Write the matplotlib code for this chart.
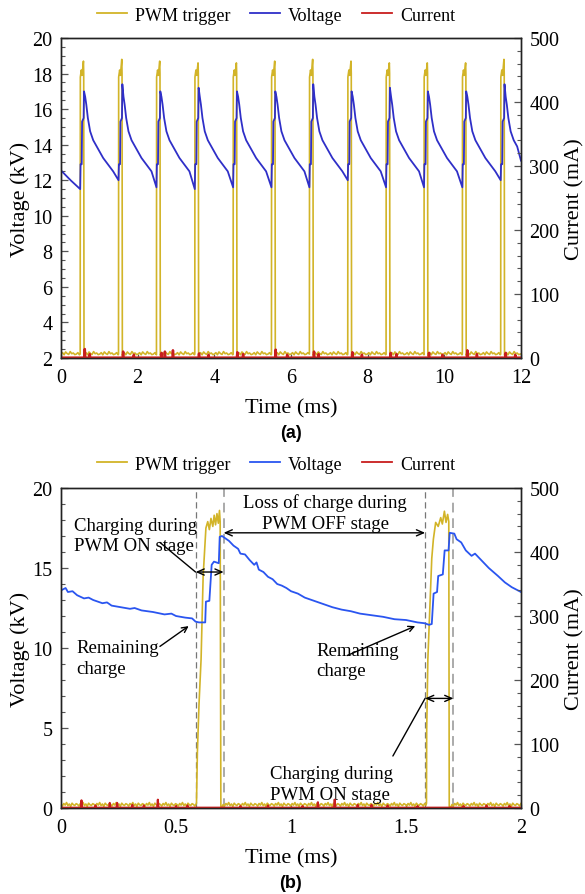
import matplotlib
matplotlib.use('Agg')
import matplotlib.pyplot as plt
from matplotlib.ticker import MultipleLocator, FuncFormatter
from matplotlib.lines import Line2D
import numpy as np

plt.rcParams['font.family'] = ['Liberation Serif', 'DejaVu Serif']

YELLOW = '#d2b428'
BLUE_A = '#2f2fc8'
BLUE_B = '#2a55f0'
RED = '#c81e1e'

# ------ (a) 12 ms record ------
pulse_on_a = [0.50, 1.50, 2.49, 3.49, 4.49, 5.49, 6.48, 7.48, 8.48, 9.47, 10.47, 11.47]
pwm_peak_a = [18.7, 18.8, 18.7, 18.6, 18.6, 18.7, 18.8, 18.7, 18.6, 18.6, 18.6, 18.8]
pwm_top_dt_a = [0.004, 0.03, 0.05, 0.085, 0.092]
pwm_top_v_a = [17.8, 18.2, 17.9, None, 18.0]      # None -> pulse peak
pwm_noise_a = [2.22, 2.30, 2.18, 2.34, 2.25, 2.20, 2.36, 2.24, 2.28, 2.19]

volt_pre_t_a = [0.0, 0.25]
volt_pre_v_a = [12.55, 12.0]
volt_min_a = [11.5, 12.0, 11.6, 11.5, 11.6, 11.6, 11.6, 12.0, 11.6, 11.6, 11.6, 12.0]
volt_peak_a = [17.0, 17.4, 17.0, 17.2, 17.0, 17.0, 17.4, 17.0, 17.2, 17.0, 17.0, 17.4]
volt_step_dt_a = [0.01, 0.04, 0.05, 0.09]
volt_step_v_a = [12.9, 12.9, 15.3, 15.5]
volt_decay_dt_a = [0.03, 0.06, 0.1, 0.16, 0.24, 0.33, 0.5, 0.76]     # after the peak
volt_decay_v_a = [16.7, 16.25, 15.5, 14.75, 14.25, 13.9, 13.25, 12.5]
volt_end_a = 13.1

cur_t_a = [0.62, 0.75, 1.62, 1.9, 2.62, 2.71, 2.92, 3.6, 3.85, 4.6, 4.75, 5.6, 5.9,
           6.6, 6.72, 7.6, 7.85, 8.6, 8.75, 9.6, 9.95, 10.6, 10.85, 11.6, 11.85]
cur_h_a = [14, 6, 10, 5, 8, 10, 12, 7, 5, 9, 6, 13, 5, 10, 6, 9, 5, 8, 6, 8, 5, 12, 6, 8, 5]

# ------ (b) 2 ms record ------
pwm_p1_t_b = [0.589, 0.593, 0.600, 0.609, 0.618, 0.630, 0.638, 0.645, 0.652, 0.660,
              0.666, 0.672, 0.678, 0.684, 0.689, 0.692, 0.695]
pwm_p1_v_b = [0.3, 3.5, 6.5, 9.3, 14.5, 17.5, 17.9, 17.4, 18.1, 17.6,
              18.3, 17.7, 18.4, 17.8, 18.6, 17.9, 0.1]
pwm_p2_t_b = [1.589, 1.590, 1.595, 1.605, 1.612, 1.619, 1.629, 1.640, 1.651, 1.658,
              1.667, 1.674, 1.681, 1.686, 1.688]
pwm_p2_v_b = [0.3, 4.9, 9.3, 13.0, 15.6, 16.8, 17.85, 17.6, 18.15, 17.75,
              18.55, 17.85, 18.35, 17.9, 0.1]
pwm_noise_b = [0.22, 0.12, 0.28, 0.18, 0.34, 0.15, 0.25, 0.10, 0.30, 0.20, 0.16, 0.27]

volt_t_b = [0.00, 0.02, 0.03, 0.05, 0.07, 0.10, 0.12, 0.14, 0.18, 0.20, 0.22, 0.26,
            0.30, 0.32, 0.35, 0.40, 0.45, 0.48, 0.50, 0.54, 0.57, 0.585, 0.60, 0.627,
            0.630, 0.645, 0.655, 0.665, 0.686, 0.690, 0.700, 0.710, 0.730, 0.750, 0.770,
            0.780, 0.800, 0.820, 0.840, 0.850, 0.860, 0.880, 0.900, 0.920, 0.940, 0.960,
            0.980, 1.00, 1.03, 1.06, 1.10, 1.14, 1.18, 1.22, 1.26, 1.30, 1.35, 1.40,
            1.45, 1.50, 1.55, 1.58, 1.60, 1.612, 1.620, 1.635, 1.640, 1.660, 1.668,
            1.685, 1.690, 1.710, 1.720, 1.740, 1.760, 1.785, 1.800, 1.830, 1.860,
            1.900, 1.930, 1.960, 2.00]
volt_v_b = [13.6, 13.75, 13.5, 13.55, 13.3, 13.1, 13.15, 13.0, 12.8, 12.85, 12.65, 12.55,
            12.45, 12.5, 12.35, 12.25, 12.1, 12.15, 12.0, 11.9, 11.85, 11.65, 11.6, 11.6,
            12.9, 12.95, 15.2, 15.4, 15.3, 16.95, 17.0, 16.9, 16.7, 16.4, 16.2,
            15.9, 15.85, 15.5, 15.2, 15.35, 14.9, 14.75, 14.45, 14.3, 14.0, 13.9,
            13.75, 13.55, 13.4, 13.15, 12.95, 12.75, 12.55, 12.4, 12.3, 12.15, 12.05, 11.95,
            11.8, 11.75, 11.6, 11.55, 11.45, 11.5, 13.4, 13.5, 14.5, 14.6, 16.1,
            16.1, 17.2, 17.15, 16.8, 16.6, 16.1, 15.76, 15.9, 15.45, 15.0,
            14.5, 14.1, 13.8, 13.5]

cur_t_b = [0.089, 0.15, 0.212, 0.244, 0.31, 0.36, 0.421, 0.50, 0.55, 0.78, 0.90, 1.05,
           1.117, 1.19, 1.29, 1.35, 1.42, 1.55, 1.75, 1.85, 1.95]
cur_h_b = [12, 4, 8, 8, 5, 4, 13, 3, 4, 3, 4, 3, 9, 13, 5, 5, 4, 3, 3, 4, 3]

dash_t_b = [0.585, 0.707, 1.583, 1.706]


def noisy_base(t0, t1, step, levels):
    t = list(np.arange(t0, t1, step))
    return t, [levels[i % len(levels)] for i in range(len(t))]


def spikes(t_end, times, heights, width):
    t, v = [0.0], [0.5]
    for s, h in zip(times, heights):
        t += [s - width, s, s + width]
        v += [0.5, h, 0.5]
    return t + [t_end], v + [0.5]


def style_axes(ax, ax2, xmax, xmaj, ylo, ymaj, ymin):
    ax.set_xlim(0, xmax)
    ax.set_ylim(ylo, 20)
    ax2.set_ylim(0, 500)
    ax.xaxis.set_major_locator(MultipleLocator(xmaj))
    ax.xaxis.set_major_formatter(FuncFormatter(lambda v, p: '%g' % v))
    ax.yaxis.set_major_locator(MultipleLocator(ymaj))
    ax.yaxis.set_minor_locator(MultipleLocator(ymin))
    ax2.yaxis.set_major_locator(MultipleLocator(100))
    ax2.yaxis.set_minor_locator(MultipleLocator(20))
    for a in (ax, ax2):
        a.tick_params(which='both', direction='in', color='#555555', labelsize=14.5)
        a.tick_params(which='major', length=5, width=0.9)
        a.tick_params(which='minor', length=3, width=0.8)
        for s in a.spines.values():
            s.set_color('#222222')
            s.set_linewidth(1.0)
    ax.tick_params(axis='x', length=3, pad=7)
    ax.tick_params(axis='y', pad=6)
    ax2.tick_params(axis='y', pad=6)
    ax.set_xlabel('Time (ms)', fontsize=16, labelpad=8)
    ax.set_ylabel('Voltage (kV)', fontsize=16, labelpad=2)
    ax2.set_ylabel('Current (mA)', fontsize=16, labelpad=4)


fig = plt.figure(figsize=(5.85, 8.95), dpi=100)
ax_a = fig.add_axes([0.1043, 0.5989, 0.7863, 0.3575])
ax_a2 = ax_a.twinx()
ax_b = fig.add_axes([0.1043, 0.0961, 0.7863, 0.3575])
ax_b2 = ax_b.twinx()

# ---- panel (a) traces ----
pwm_t, pwm_v = [], []
start = 0.0
for on, pk in zip(pulse_on_a, pwm_peak_a):
    bt, bv = noisy_base(start, on, 0.04, pwm_noise_a)
    pwm_t += bt + [on]
    pwm_v += bv + [pwm_noise_a[0]]
    for dt, v in zip(pwm_top_dt_a, pwm_top_v_a):
        pwm_t.append(on + dt)
        pwm_v.append(pk if v is None else v)
    pwm_t.append(on + 0.1)
    pwm_v.append(2.15)
    start = on + 0.11
bt, bv = noisy_base(start, 12.0, 0.04, pwm_noise_a)
pwm_t += bt
pwm_v += bv

volt_t, volt_v = list(volt_pre_t_a), list(volt_pre_v_a)
for i, on in enumerate(pulse_on_a):
    volt_t.append(on)
    volt_v.append(volt_min_a[i])
    volt_t += [on + dt for dt in volt_step_dt_a]
    volt_v += volt_step_v_a
    tp = on + 0.10
    volt_t.append(tp)
    volt_v.append(volt_peak_a[i])
    for dt, v in zip(volt_decay_dt_a, volt_decay_v_a):
        if tp + dt < 12.0:
            volt_t.append(tp + dt)
            volt_v.append(v)
volt_t.append(12.0)
volt_v.append(volt_end_a)

ax_a.plot(pwm_t, pwm_v, color=YELLOW, lw=1.2)
ax_a.plot(volt_t, volt_v, color=BLUE_A, lw=1.3)
ct, cv = spikes(12.0, cur_t_a, cur_h_a, 0.012)
ax_a2.plot(ct, cv, color=RED, lw=1.8)
style_axes(ax_a, ax_a2, 12, 2, 2, 2, 0.5)

# ---- panel (b) traces ----
pwm_t, pwm_v = [], []
bt, bv = noisy_base(0.0, pwm_p1_t_b[0], 0.006, pwm_noise_b)
pwm_t += bt + pwm_p1_t_b
pwm_v += bv + pwm_p1_v_b
bt, bv = noisy_base(0.705, pwm_p2_t_b[0], 0.006, pwm_noise_b)
pwm_t += [0.700] + bt + pwm_p2_t_b
pwm_v += [0.05] + bv + pwm_p2_v_b
bt, bv = noisy_base(1.70, 2.0, 0.006, pwm_noise_b)
pwm_t += [1.695] + bt
pwm_v += [0.05] + bv

for i, xd in enumerate(dash_t_b):
    ax_b.axvline(xd, color='#777777' if i % 2 == 0 else '#aaaaaa',
                 lw=0.9 if i % 2 == 0 else 1.4, ls=(0, (5, 3)), zorder=1)
ax_b.plot(pwm_t, pwm_v, color=YELLOW, lw=1.2)
ax_b.plot(volt_t_b, volt_v_b, color=BLUE_B, lw=1.3)
ct, cv = spikes(2.0, cur_t_b, cur_h_b, 0.003)
ax_b2.plot(ct, cv, color=RED, lw=1.5)
style_axes(ax_b, ax_b2, 2, 0.5, 0, 5, 1)

txt = dict(fontsize=13.5, linespacing=1.3)
arr = dict(arrowstyle='->', color='k', lw=1.0, shrinkA=0, shrinkB=0)
dbl = dict(arrowstyle='<->,head_length=0.5,head_width=0.22', color='k', lw=1.0,
           shrinkA=0, shrinkB=0)
line = dict(arrowstyle='-', color='k', lw=1.0, shrinkA=0, shrinkB=0)

ax_b.annotate('', xy=(dash_t_b[1], 14.75), xytext=(dash_t_b[0], 14.75), arrowprops=dbl)
ax_b.annotate('', xy=(dash_t_b[2], 17.2), xytext=(dash_t_b[1], 17.2), arrowprops=dbl)
ax_b.annotate('', xy=(dash_t_b[3], 6.85), xytext=(dash_t_b[2], 6.85), arrowprops=dbl)

ax_b.text(0.057, 17.03, 'Charging during\nPWM ON stage', ha='left', va='center', **txt)
ax_b.annotate('', xy=(dash_t_b[0], 14.75), xytext=(0.43, 16.6), arrowprops=line)
ax_b.text(1.148, 18.47, 'Loss of charge during\nPWM OFF stage', ha='center',
          va='center', multialignment='center', **txt)
ax_b.text(0.065, 9.37, 'Remaining\ncharge', ha='left', va='center', **txt)
ax_b.annotate('', xy=(0.555, 11.37), xytext=(0.43, 10.1), arrowprops=arr)
ax_b.text(1.109, 9.22, 'Remaining\ncharge', ha='left', va='center', **txt)
ax_b.annotate('', xy=(1.54, 11.37), xytext=(1.244, 9.53), arrowprops=arr)
ax_b.text(0.909, 1.5, 'Charging during\nPWM ON stage', ha='left', va='center', **txt)
ax_b.annotate('', xy=(dash_t_b[2], 6.85), xytext=(1.443, 3.25), arrowprops=line)

handles = [Line2D([], [], color=YELLOW, lw=1.3),
           Line2D([], [], color=BLUE_A, lw=1.3),
           Line2D([], [], color=RED, lw=1.3)]
handles_b = [Line2D([], [], color=YELLOW, lw=1.3),
             Line2D([], [], color=BLUE_B, lw=1.3),
             Line2D([], [], color=RED, lw=1.3)]
names = ['PWM trigger', 'Voltage', 'Current']
leg_kw = dict(ncol=3, frameon=False, fontsize=13, handlelength=1.67,
              handletextpad=0.45, columnspacing=1.05, loc='center', borderpad=0)
fig.legend(handles, names, bbox_to_anchor=(0.472, 0.982), **leg_kw)
fig.legend(handles_b, names, bbox_to_anchor=(0.472, 0.4804), **leg_kw)

fig.text(0.497, 1 - 434 / 895, '(a)', ha='center', va='center', fontsize=13,
         family='Liberation Sans', weight='bold')
fig.text(0.497, 1 - 884 / 895, '(b)', ha='center', va='center', fontsize=13,
         family='Liberation Sans', weight='bold')

fig.savefig('out.png', dpi=100)
